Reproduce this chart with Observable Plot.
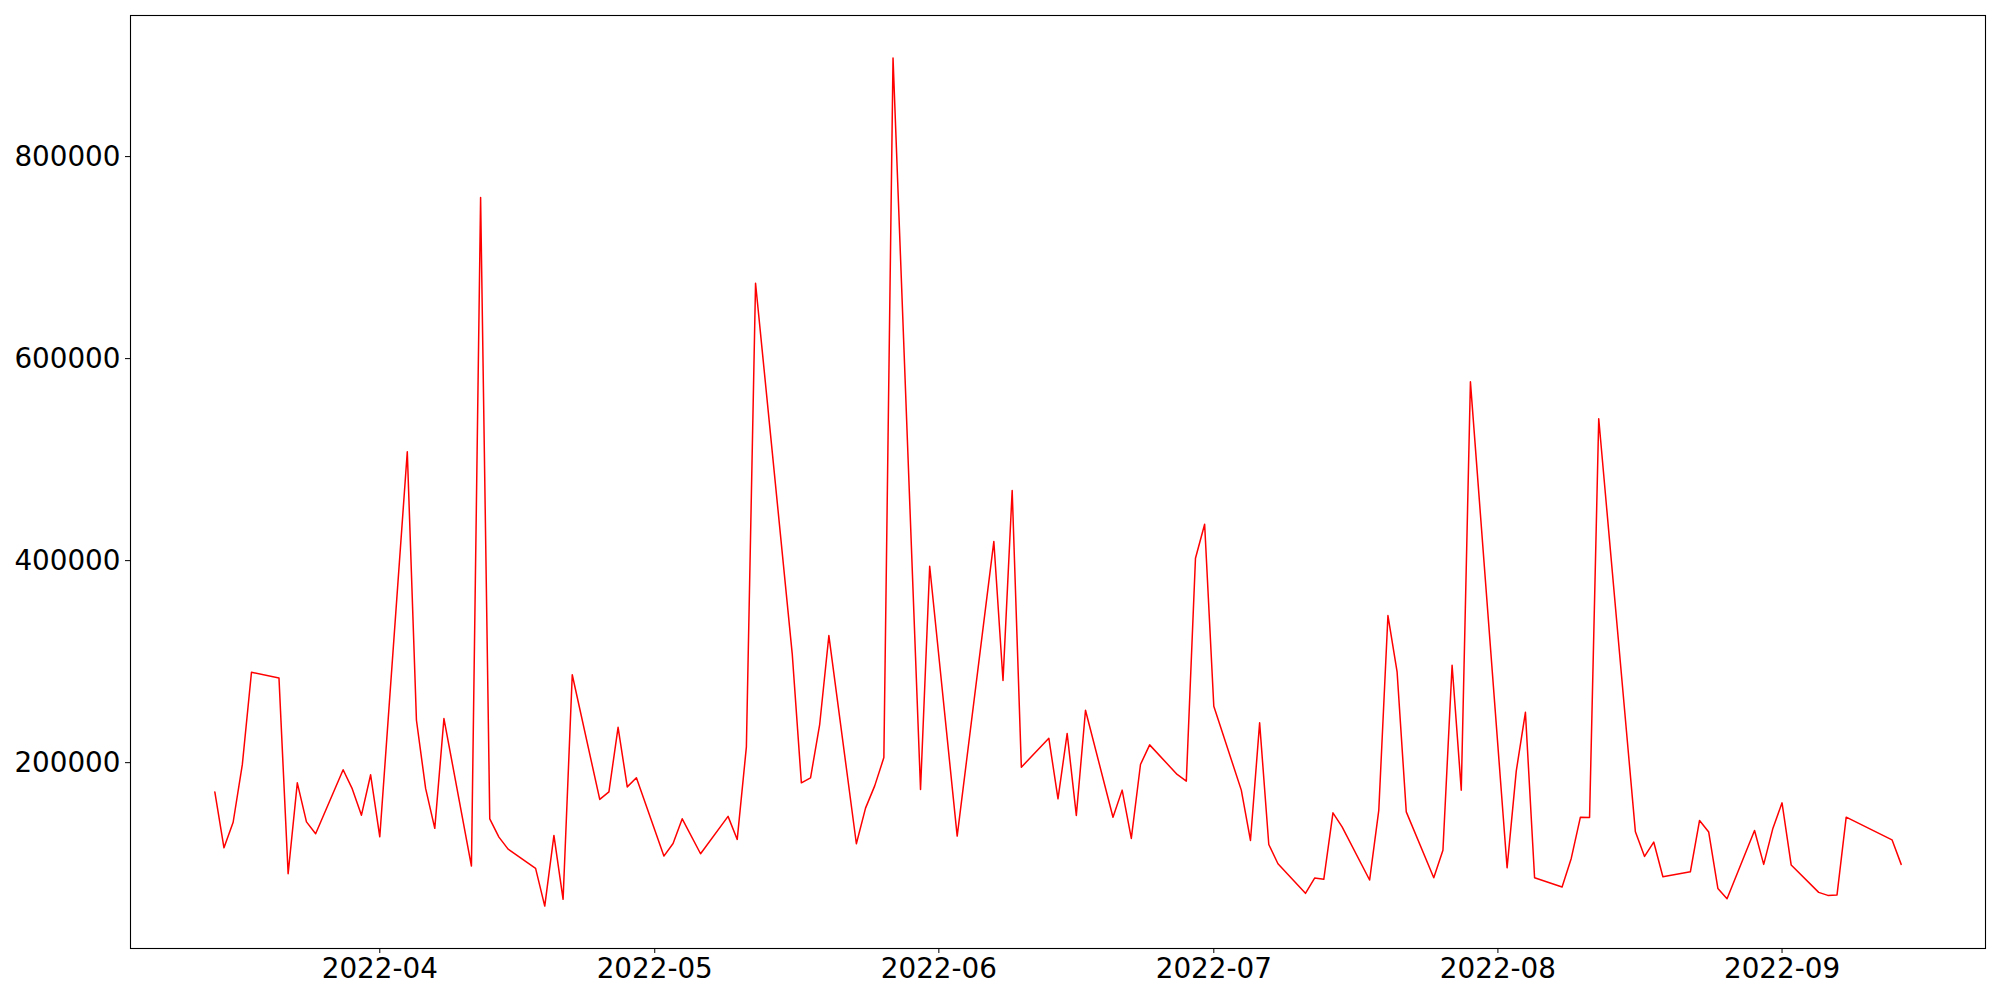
<!DOCTYPE html>
<html>
<head>
<meta charset="utf-8">
<script src="https://cdn.jsdelivr.net/npm/d3@7"></script>
<script src="https://cdn.jsdelivr.net/npm/@observablehq/plot@0.6"></script>
<style>
  html, body { margin: 0; padding: 0; background: white; overflow: hidden; }
  #chart svg { display: block; }
</style>
</head>
<body>
<div id="chart"></div>
<script>
const dates = [
  "2022-03-14","2022-03-15","2022-03-16","2022-03-17","2022-03-18",
  "2022-03-21","2022-03-22","2022-03-23","2022-03-24","2022-03-25",
  "2022-03-28","2022-03-29","2022-03-30","2022-03-31","2022-04-01",
  "2022-04-04","2022-04-05","2022-04-06","2022-04-07","2022-04-08",
  "2022-04-11","2022-04-12","2022-04-13","2022-04-14","2022-04-15",
  "2022-04-18","2022-04-19","2022-04-20","2022-04-21","2022-04-22",
  "2022-04-25","2022-04-26","2022-04-27","2022-04-28","2022-04-29",
  "2022-05-02","2022-05-03","2022-05-04","2022-05-06",
  "2022-05-09","2022-05-10","2022-05-11","2022-05-12",
  "2022-05-16","2022-05-17","2022-05-18","2022-05-19","2022-05-20",
  "2022-05-23","2022-05-24","2022-05-25","2022-05-26","2022-05-27",
  "2022-05-30","2022-05-31","2022-06-03",
  "2022-06-07","2022-06-08","2022-06-09","2022-06-10",
  "2022-06-13","2022-06-14","2022-06-15","2022-06-16","2022-06-17",
  "2022-06-20","2022-06-21","2022-06-22","2022-06-23","2022-06-24",
  "2022-06-27","2022-06-28","2022-06-29","2022-06-30","2022-07-01",
  "2022-07-04","2022-07-05","2022-07-06","2022-07-07","2022-07-08",
  "2022-07-11","2022-07-12","2022-07-13","2022-07-14","2022-07-15",
  "2022-07-18","2022-07-19","2022-07-20","2022-07-21","2022-07-22",
  "2022-07-25","2022-07-26","2022-07-27","2022-07-28","2022-07-29",
  "2022-08-02","2022-08-03","2022-08-04","2022-08-05",
  "2022-08-08","2022-08-09","2022-08-10","2022-08-11","2022-08-12",
  "2022-08-16","2022-08-17","2022-08-18","2022-08-19",
  "2022-08-22","2022-08-23","2022-08-24","2022-08-25","2022-08-26",
  "2022-08-29","2022-08-30","2022-08-31","2022-09-01","2022-09-02",
  "2022-09-05","2022-09-06","2022-09-07","2022-09-08",
  "2022-09-13","2022-09-14"
];

const values = [
  171000,115700,141000,198000,289500,
  283900,90000,180000,141400,129600,
  193000,174000,148000,188000,126600,
  507800,242000,174500,135000,243700,
  97600,759600,144400,126300,114400,
  95300,58000,128000,64700,287000,
  163600,171000,235000,176000,185000,
  107500,120000,144400,109800,
  146800,124000,215600,674600,
  308000,180000,185000,238000,325800,
  119700,155000,177000,205000,897700,
  173500,394400,127300,
  419000,281300,469500,195500,
  224200,164200,228900,147800,251900,
  146000,172800,125000,198200,217600,
  188300,181700,402300,436000,255900,
  172800,123000,239400,119000,99900,
  70600,85800,84500,150300,136500,
  83800,152700,345600,289800,151300,
  86000,113200,296400,172800,577000,
  95900,191600,249900,86000,
  76900,105200,146000,145800,540500,
  131500,107200,121400,87000,
  92000,142800,131300,75500,65300,
  132900,99300,134900,160200,98600,
  71600,68600,69100,146000,
  123600,99300
];

const xTickDates = ["2022-04-01","2022-05-01","2022-06-01","2022-07-01","2022-08-01","2022-09-01"];
const yTicks = [200000, 400000, 600000, 800000];

const data = dates.map((d, i) => ({date: new Date(d + "T00:00:00Z"), value: values[i]}));

// matplotlib-style 5% auto margins
function padExtent(ext) {
  const a = +ext[0], b = +ext[1], p = (b - a) * 0.05;
  return [a - p, b + p];
}
const xExt = padExtent(d3.extent(data, d => d.date));
const yExt = padExtent(d3.extent(data, d => d.value));

const chart = Plot.plot({
  width: 2000,
  height: 1000,
  marginLeft: 130,
  marginRight: 15,
  marginTop: 15,
  marginBottom: 52,
  style: {
    fontFamily: "'DejaVu Sans', sans-serif",
    fontSize: "27.8px",
    color: "black",
    background: "white"
  },
  x: {
    type: "utc",
    domain: [new Date(xExt[0]), new Date(xExt[1])],
    ticks: xTickDates.map(d => new Date(d + "T00:00:00Z")),
    tickFormat: d3.utcFormat("%Y-%m"),
    tickSize: 5,
    tickPadding: 5,
    label: null
  },
  y: {
    domain: yExt,
    ticks: yTicks,
    tickFormat: d3.format("d"),
    tickSize: 5,
    tickPadding: 5,
    label: null
  },
  marks: [
    Plot.lineY(data, {x: "date", y: "value", stroke: "red", strokeWidth: 1.5}),
    Plot.frame({stroke: "black", strokeWidth: 1.1})
  ]
});

document.getElementById("chart").appendChild(chart);
</script>
</body>
</html>
